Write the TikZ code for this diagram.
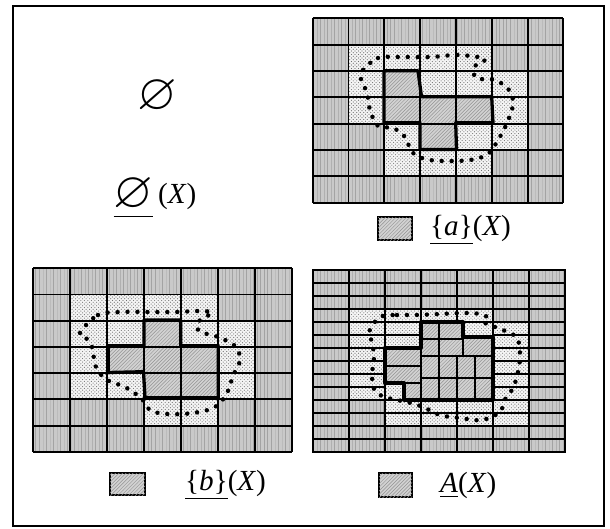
\documentclass[tikz,border=0pt]{standalone}
\usepackage{fontspec}
\setmainfont{Liberation Serif}
\usepackage{amssymb}
\usetikzlibrary{patterns}

% cell fillings: o = outside, b = boundary, l = lower approximation
\tikzset{
  cello/.style={fill=gray!42, postaction={pattern=vertical lines, pattern color=gray!72}},
  cellb/.style={fill=gray!8, postaction={pattern=crosshatch dots, pattern color=black!55}},
  celll/.style={fill=gray!35, postaction={pattern=north east lines, pattern color=gray!85}},
  cellx/.style={},
  edgeo/.style={draw=black, line width=0.9pt},
  edgeb/.style={draw=black, line width=0.9pt},
  edgex/.style={},
  gridline/.style={draw=black, line width=1.7pt},
  rim/.style={draw=black, line width=2.8pt, line join=round},
  bigdots/.style={line width=3.8pt, dash pattern=on 0pt off 8.5pt, line cap=round},
  lab/.style={font=\Huge, inner sep=0pt},
}
\newcommand{\bignul}{\scalebox{1.75}{$\varnothing$}}

\begin{document}
\begin{tikzpicture}[x=0.03cm, y=-0.03cm]
\useasboundingbox (0,0) rectangle (610,529);
\draw[line width=1.7pt] (13,6) rectangle (604,526);

% empty set panel
\node[lab] (nul) at (157,97) {\bignul};
\node[lab] (nulX) at (155,198) {$\underline{\hbox{\raisebox{-4pt}{\bignul}}}$\,(\textit{X})};

% {a} panel
\foreach \row [count=\r from 0] in {{o,o,o,o,o,o,o},{o,b,b,b,b,o,o},{o,b,l,b,b,b,o},{o,b,l,l,l,b,o},{o,o,b,l,b,b,o},{o,o,b,b,b,o,o},{o,o,o,o,o,o,o}}{
  \foreach \t [count=\c from 0] in \row
    \path[cell\t] ({312.7+35.8*\c},{18.3+26.35*\r}) rectangle +(35.8,26.35);
}
\foreach \i in {0,...,7}{
  \draw[gridline] ({312.7+35.8*\i},18.3) -- ++(0,184.45);
  \draw[gridline] (312.7,{18.3+26.35*\i}) -- ++(250.6,0);
}
\draw[rim] (384,70.7) -- (418,70.7) -- (421.5,96.7) -- (491.7,96.7) -- (493,122.7)
  -- (455.7,122.7) -- (456.5,149.5) -- (420,149.5) -- (420,122.7) -- (384,122.7) -- cycle;
\draw[bigdots] plot[smooth cycle, tension=0.6] coordinates {(363,70) (378,58) (397,57) (430,57)
  (459,55) (485,59) (475,66) (476,78) (495,80) (509,90) (513,104) (507,123) (498,140)
  (488,154) (470,160) (443,161) (425,159) (412,152) (405,137) (393,128) (378,126)
  (370,110) (367,93) (361,79)};
\path[celll, draw=black, line width=1.5pt] (378,217) rectangle (412,240);
\node[lab, anchor=west] (labA) at (430,230) {\underline{\{\textit{a}\}}(\textit{X})};

% {b} panel
\foreach \row [count=\r from 0] in {{o,o,o,o,o,o,o},{o,b,b,b,b,o,o},{o,b,b,l,b,b,o},{o,b,l,l,l,b,o},{o,b,b,l,l,b,o},{o,o,o,b,b,o,o},{o,o,o,o,o,o,o}}{
  \foreach \t [count=\c from 0] in \row
    \path[cell\t] ({33.3+36.9*\c},{268.3+26.2*\r}) rectangle +(36.9,26.2);
}
\foreach \i in {0,...,7}{
  \draw[gridline] ({33.3+36.9*\i},268.3) -- ++(0,183.4);
  \draw[gridline] (33.3,{268.3+26.2*\i}) -- ++(258.3,0);
}
\draw[rim] (144,320) -- (180.7,320) -- (180.7,345.7) -- (218.3,345.7) -- (218.3,397.7)
  -- (145,397.7) -- (143.5,371.7) -- (108.3,372.5) -- (108.3,345.7) -- (144,345.7) -- cycle;
\draw[bigdots] plot[smooth cycle, tension=0.6] coordinates {(80,333) (98,315) (123,312)
  (150,312) (177,312) (200,311) (212,313) (199,321) (199,331) (218,337) (235,346)
  (240,360) (233,376) (227,393) (215,407) (193,413) (167,414) (150,410) (142,399)
  (125,387) (107,380) (96,367) (92,347) (86,338)};
\path[celll, draw=black, line width=1.5pt] (110,473) rectangle (145,495);
\node[lab, anchor=west] (labB) at (185,485) {\underline{\{\textit{b}\}}(\textit{X})};

% A panel
\foreach \col [count=\c from 0] in {{o,o,o,o,o,o,o,o,o,o,o,o,o,o},{o,o,o,b,b,b,b,b,b,b,o,o,o,o},{o,o,o,b,b,b,x,x,x,x,b,b,o,o},{o,o,o,b,x,x,x,x,x,x,b,b,o,o},{o,o,o,b,x,x,x,x,x,x,b,b,o,o},{o,o,o,o,b,b,b,b,b,b,b,b,o,o},{o,o,o,o,o,o,o,o,o,o,o,o,o,o}}{
  \foreach \t [count=\s from 0] in \col
    \path[cell\t] ({313+36*\c},{270+13*\s}) rectangle +(36,13);
}
\path[celll] (385,348) rectangle (421,365.5);
\path[celll] (385,365.5) rectangle (421,383);
\path[cellb] (385,383) rectangle (404,400);
\path[celll] (404,383) rectangle (421,400);
\path[celll] (421,322) rectangle (439,339);
\path[celll] (439,322) rectangle (463,339);
\path[cellb] (463,322) rectangle (493,337);
\path[celll] (421,339) rectangle (439,356);
\path[celll] (439,339) rectangle (463,356);
\path[celll] (463,337) rectangle (493,356);
\foreach \x in {421,439,457,475}
  \foreach \y in {356,378}
    \path[celll] (\x,\y) rectangle +(18,22);
\foreach \col [count=\c from 0] in {{o,o,o,o,o,o,o,o,o,o,o,o,o,o},{o,o,o,b,b,b,b,b,b,b,o,o,o,o},{o,o,o,b,b,b,x,x,x,x,b,b,o,o},{o,o,o,b,x,x,x,x,x,x,b,b,o,o},{o,o,o,b,x,x,x,x,x,x,b,b,o,o},{o,o,o,o,b,b,b,b,b,b,b,b,o,o},{o,o,o,o,o,o,o,o,o,o,o,o,o,o}}{
  \foreach \t [count=\s from 0] in \col
    \path[edge\t] ({313+36*\c},{270+13*\s}) rectangle +(36,13);
}
\foreach \x in {421,439,457,475}
  \foreach \y in {356,378}
    \draw[gridline] (\x,\y) rectangle +(18,22);
\draw[gridline] (385,348) rectangle (421,383) (385,365.5) -- (421,365.5)
  (385,383) rectangle (421,400) (404,383) -- (404,400);
\draw[gridline] (421,322) rectangle (463,356) (439,322) -- (439,356) (421,339) -- (463,339)
  (463,322) rectangle (493,356) (463,337) -- (493,337);
\foreach \x in {313,349,385,421,493,529,565}
  \draw[gridline] (\x,270) -- (\x,452);
\draw[gridline] (457,270) -- (457,322) (457,400) -- (457,452);
\draw[gridline] (313,270) rectangle (565,452);
\draw[rim] (421,322) -- (463,322) -- (463,337) -- (493,337) -- (493,400) -- (404,400)
  -- (404,383) -- (385,383) -- (385,348) -- (421,348) -- cycle;
\draw[bigdots] plot[smooth cycle, tension=0.6] coordinates {(380,317) (397,315) (415,315)
  (440,314) (463,313) (480,314) (488,318) (485,323) (503,330) (517,338) (520,355)
  (518,372) (513,388) (504,401) (500,412) (482,420) (460,418) (440,415) (423,407)
  (407,402) (388,398) (375,391) (372,375) (374,358) (372,342) (369,332)};
\path[celll, draw=black, line width=1.5pt] (379,473) rectangle (412,497);
\node[lab, anchor=west] (labAll) at (440,485) {\underline{\textit{A}}(\textit{X})};
\end{tikzpicture}
\end{document}
